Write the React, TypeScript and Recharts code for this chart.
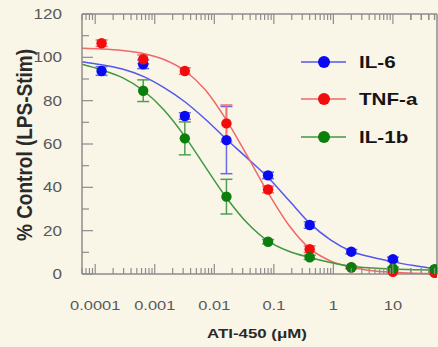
import React from 'react';
import { ComposedChart, Line, Scatter, XAxis, YAxis, ErrorBar, Legend } from 'recharts';

// doses (µM), 5-fold dilution series
const doses = [0.000128, 0.00064, 0.0032, 0.016, 0.08, 0.4, 2, 10, 50];

const il6 = [93.7, 96.8, 72.9, 61.8, 45.5, 22.6, 10.3, 6.8, 2.0];
const il6Err = [2, 2, 1.5, 15.5, 1.5, 1.5, 1, 1, 0.5];
const tnf = [106.5, 99.1, 93.7, 69.5, 39.0, 11.4, 3.0, 1.0, 0.5];
const tnfErr = [1.5, 2, 1.5, 8.5, 1.5, 1.5, 0.5, 0.5, 0.5];
const il1b = [null, 84.6, 62.6, 35.7, 14.9, 7.7, 3.1, 2.6, 2.2];
const il1bErr = [0, 5, 7.6, 8, 1, 1, 0.5, 0.5, 0.5];

// fitted curves
const fitX = [6e-5, 1.28e-4, 2.86e-4, 6.4e-4, 1.43e-3, 3.2e-3, 7.16e-3, 0.016, 0.0358, 0.08, 0.179, 0.4, 0.894, 2, 4.47, 10, 22.4, 55];
const il6Fit = [98, 96.6, 94.6, 91.2, 86, 79.5, 71.3, 62.2, 53.5, 44.5, 34, 23.5, 15.8, 10.5, 7.7, 5.6, 3.9, 2.3];
const tnfFit = [104.2, 103.9, 103.2, 101.8, 99, 93.8, 84.8, 71, 54.5, 37.5, 22.5, 11.8, 6, 3.1, 1.5, 0.8, 0.4, 0.2];
const il1bFit = [96.8, 94.2, 90.6, 84.7, 75.7, 63.5, 49.2, 35.2, 23.5, 15.2, 10.5, 7.6, 5.3, 3.6, 2.8, 2.3, 2, 1.8];

const xMajor = [0.0001, 0.001, 0.01, 0.1, 1, 10];
const xTickLabels = ['0.0001', '0.001', '0.01', '0.1', '1', '10'];
const yTicks = [0, 10, 20, 30, 40, 50, 60, 70, 80, 90, 100, 110, 120];

const xTicks = [
  6e-5, 7e-5, 8e-5, 9e-5,
  ...xMajor.flatMap((m) => [1, 2, 3, 4, 5, 6, 7, 8, 9].map((k) => k * m)),
  20, 30, 40, 50,
];

const X0 = 82;
const X1 = 437;
const Y0 = 14;
const Y1 = 274;
const AXIS = '#8d8d8d';
const BG = '#f9f6e8';
const FONT = '"Liberation Sans", Arial, sans-serif';

const SERIES = [
  { name: 'IL-6', vals: il6, err: il6Err, fit: il6Fit, dot: '#0a0af2', line: '#5656ea', bar: '#6a6ae6' },
  { name: 'TNF-a', vals: tnf, err: tnfErr, fit: tnfFit, dot: '#f20c0c', line: '#f06868', bar: '#ee7070' },
  { name: 'IL-1b', vals: il1b, err: il1bErr, fit: il1bFit, dot: '#0b7f0b', line: '#3f973f', bar: '#4f9f4f' },
];

const isMajor = (v: number) => Math.abs(Math.log10(v) - Math.round(Math.log10(v))) < 1e-6;

function BottomTick(props: any) {
  const { x, payload } = props;
  const v = payload.value as number;
  const major = isMajor(v);
  const idx = xMajor.findIndex((m) => Math.abs(m - v) / m < 1e-6);
  return (
    <g>
      <line x1={x} x2={x} y1={Y1} y2={Y1 - (major ? 10 : 6)} stroke={AXIS} strokeWidth={1.2} />
      {idx >= 0 && (
        <text
          transform={`translate(${x},310) scale(1.22,1)`}
          textAnchor="middle"
          fontFamily={FONT}
          fontSize={13.5}
          fill="#585858"
        >
          {xTickLabels[idx]}
        </text>
      )}
    </g>
  );
}

function TopTick(props: any) {
  const { x, payload } = props;
  const major = isMajor(payload.value);
  return <line x1={x} x2={x} y1={Y0} y2={Y0 + (major ? 10 : 6)} stroke={AXIS} strokeWidth={1.2} />;
}

function LeftTick(props: any) {
  const { y, payload } = props;
  const v = payload.value as number;
  const major = v % 20 === 0;
  return (
    <g>
      <line x1={X0} x2={X0 + (major ? 11 : 7)} y1={y} y2={y} stroke={AXIS} strokeWidth={1.2} />
      {major && (
        <text
          transform={`translate(62,${y + 5}) scale(1.22,1)`}
          textAnchor="end"
          fontFamily={FONT}
          fontSize={14}
          fill="#585858"
        >
          {v}
        </text>
      )}
    </g>
  );
}

function RightTick(props: any) {
  const { y, payload } = props;
  const major = (payload.value as number) % 20 === 0;
  return <line x1={X1} x2={X1 - (major ? 11 : 7)} y1={y} y2={y} stroke={AXIS} strokeWidth={1.2} />;
}

function LegendBox() {
  const rows = [62, 99, 137];
  return (
    <svg width={438} height={160} style={{ display: 'block' }}>
      {SERIES.map((s, i) => (
        <g key={s.name}>
          <line x1={301} x2={346} y1={rows[i]} y2={rows[i]} stroke={s.line} strokeWidth={1.5} />
          <circle cx={324} cy={rows[i]} r={6} fill={s.dot} />
          <text
            transform={`translate(359,${rows[i] + 6}) scale(1.25,1)`}
            fontFamily={FONT}
            fontWeight="bold"
            fontSize={16.5}
            fill="#151515"
          >
            {s.name}
          </text>
        </g>
      ))}
    </svg>
  );
}

export default function App() {
  const pts = SERIES.map((s) =>
    doses
      .map((d, i) => ({ x: d, y: s.vals[i], err: s.err[i] }))
      .filter((p) => p.y !== null),
  );
  const fits = SERIES.map((s) => fitX.map((x, i) => ({ x, y: s.fit[i] })));

  return (
    <div style={{ position: 'absolute', left: 0, top: 0, width: 438, height: 347, background: BG }}>
      <ComposedChart width={438} height={347} margin={{ top: Y0 - 1, right: 438 - X1 - 1, left: 0, bottom: 0 }}>
        <XAxis
          xAxisId={0}
          dataKey="x"
          type="number"
          scale="log"
          domain={[6e-5, 55]}
          allowDataOverflow
          ticks={xTicks}
          interval={0}
          tickLine={false}
          tick={<BottomTick />}
          height={347 - Y1}
          axisLine={{ stroke: AXIS, strokeWidth: 1.5 }}
          label={{
            content: () => (
              <text
                transform="translate(257,338) scale(1.25,1)"
                textAnchor="middle"
                fontFamily={FONT}
                fontWeight="bold"
                fontSize={13.5}
                fill="#2a2a2a"
              >
                ATI-450 (μM)
              </text>
            ),
          }}
        />
        <XAxis
          xAxisId="top"
          orientation="top"
          dataKey="x"
          type="number"
          scale="log"
          domain={[6e-5, 55]}
          allowDataOverflow
          ticks={xTicks}
          interval={0}
          tickLine={false}
          tick={<TopTick />}
          height={1}
          axisLine={{ stroke: AXIS, strokeWidth: 1.5 }}
        />
        <YAxis
          yAxisId={0}
          type="number"
          domain={[0, 120]}
          ticks={yTicks}
          interval={0}
          width={X0}
          tickLine={false}
          tick={<LeftTick />}
          axisLine={{ stroke: AXIS, strokeWidth: 1.5 }}
          label={{
            content: () => (
              <text
                transform="translate(32,145) rotate(-90) scale(1,1.15)"
                textAnchor="middle"
                fontFamily={FONT}
                fontWeight="bold"
                fontSize={19}
                fill="#2a2a2a"
              >
                % Control (LPS-Stim)
              </text>
            ),
          }}
        />
        <YAxis
          yAxisId="right"
          orientation="right"
          type="number"
          domain={[0, 120]}
          ticks={yTicks}
          interval={0}
          width={1}
          tickLine={false}
          tick={<RightTick />}
          axisLine={{ stroke: AXIS, strokeWidth: 1.5 }}
        />
        <Legend
          layout="vertical"
          align="center"
          verticalAlign="middle"
          wrapperStyle={{ position: 'absolute', left: 0, top: 0, width: 438, height: 160, pointerEvents: 'none' }}
          content={() => <LegendBox />}
        />
        {SERIES.map((s, i) => (
          <Line
            key={`fit-${s.name}`}
            data={fits[i]}
            dataKey="y"
            type="monotone"
            stroke={s.line}
            strokeWidth={1.5}
            dot={false}
            activeDot={false}
            legendType="none"
            isAnimationActive={false}
          />
        ))}
        {SERIES.map((s, i) => (
          <Scatter
            key={`pts-${s.name}`}
            name={s.name}
            data={pts[i]}
            dataKey="y"
            fill={s.dot}
            isAnimationActive={false}
            shape={(p: any) => <circle cx={p.cx} cy={p.cy} r={5.2} fill={s.dot} />}
          >
            <ErrorBar dataKey="err" direction="y" width={6} stroke={s.bar} strokeWidth={1.5} />
          </Scatter>
        ))}
      </ComposedChart>
    </div>
  );
}
